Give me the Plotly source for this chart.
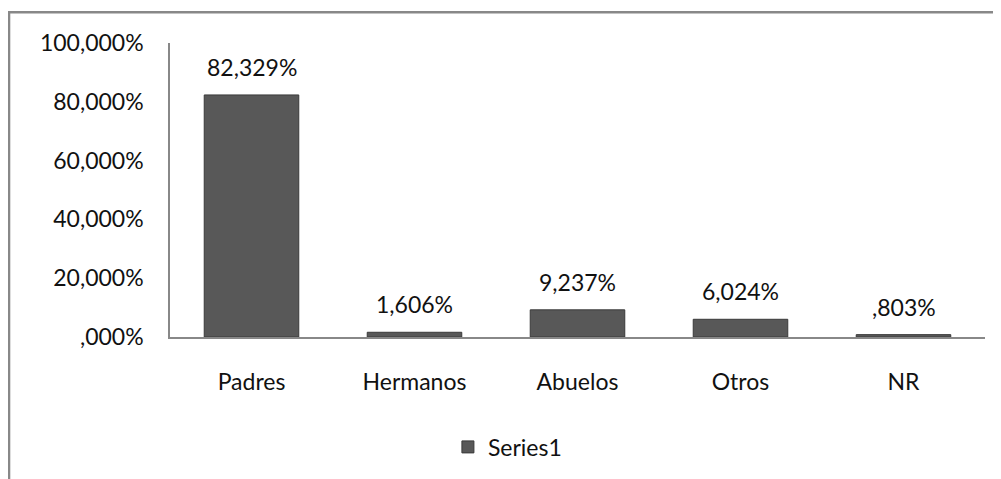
import plotly.graph_objects as go

categories = ["Padres", "Hermanos", "Abuelos", "Otros", "NR"]
values = [82.329, 1.606, 9.237, 6.024, 0.803]
series_name = "Series1"
y_tickvals = [0, 20, 40, 60, 80, 100]
y_ticktext = [",000%", "20,000%", "40,000%", "60,000%", "80,000%", "100,000%"]


def fmt(v):
    s = f"{v:.3f}".replace(".", ",")
    if s.startswith("0,"):
        s = s[1:]
    return s + "%"


FONT = "Lato, 'Open Sans', sans-serif"

fig = go.Figure()
fig.add_trace(go.Bar(
    x=categories, y=values, name=series_name,
    marker=dict(color="#585858", line=dict(color="#3a3a3a", width=1)),
    width=0.58, showlegend=True,
))

for c, v in zip(categories, values):
    fig.add_annotation(x=c, y=v, text=fmt(v), showarrow=False,
                       yanchor="bottom", yshift=12,
                       font=dict(family=FONT, size=23, color="#111111"))

# outer chart frame (top and left edges visible)
fig.add_shape(type="path", xref="paper", yref="paper",
              path="M -0.1975 -1 L -0.1975 1.105 L 1.2 1.105",
              line=dict(color="#888888", width=2.5))

fig.update_layout(
    width=1001, height=479,
    margin=dict(l=162, r=24, t=35, b=150),
    paper_bgcolor="white", plot_bgcolor="white",
    font=dict(family=FONT, size=23, color="#111111"),
    bargap=0.42,
    showlegend=True,
    legend=dict(orientation="h", x=0.341, xanchor="left", y=-0.374, yanchor="middle",
                font=dict(family=FONT, size=23, color="#111111"),
                bgcolor="rgba(0,0,0,0)"),
    xaxis=dict(showline=True, linecolor="#888888", linewidth=1.5, ticks="",
               showgrid=False, ticklabelstandoff=24, fixedrange=True),
    yaxis=dict(range=[0, 100], tickvals=y_tickvals, ticktext=y_ticktext,
               showline=True, linecolor="#888888", linewidth=1.5, ticks="",
               showgrid=False, zeroline=False, ticklabelstandoff=20, fixedrange=True),
)

fig.write_html("out.html")
